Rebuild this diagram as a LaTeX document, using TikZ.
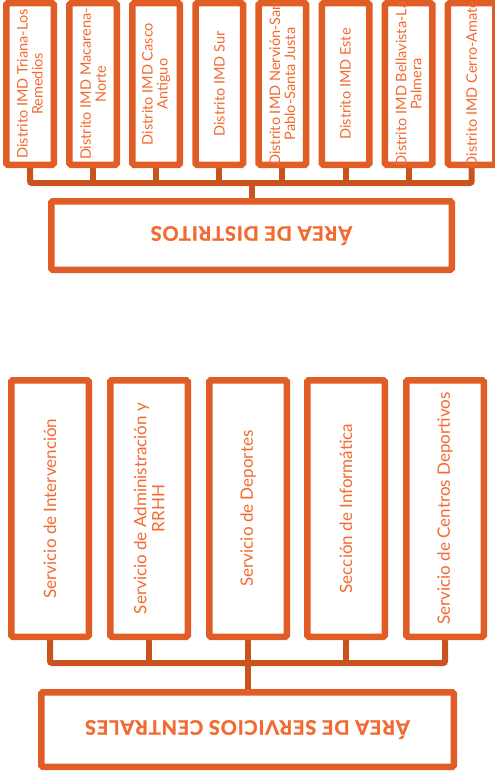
\documentclass[tikz,border=0pt]{standalone}
\usepackage{fontspec}
\usetikzlibrary{backgrounds}
\setmainfont{Lato}
\definecolor{bord}{HTML}{E05D25}
\definecolor{txt}{HTML}{F36A30}
\definecolor{busc}{HTML}{C9531F}
\begin{document}
\begin{tikzpicture}[x=1pt,y=1pt,
  dbox/.style={draw=bord, line width=6.5pt, rounded corners=1.5pt, fill=white,
    minimum width=47.5pt, minimum height=161.5pt, inner sep=0pt},
  sbox/.style={draw=bord, line width=6.5pt, rounded corners=1.5pt, fill=white,
    minimum width=77.5pt, minimum height=256.5pt, inner sep=0pt},
  abox/.style={draw=bord, line width=6.5pt, rounded corners=1.5pt, fill=white, inner sep=0pt},
  dlab/.style={rotate=90, align=center, text=txt, inner sep=0pt,
    font=\fontsize{14.5}{15}\selectfont},
  slab/.style={rotate=90, align=center, text=txt, inner sep=0pt,
    font=\fontsize{17}{18}\selectfont},
  alab/.style={rotate=180, text=txt, inner sep=0pt,
    font=\fontsize{20}{22}\selectfont\bfseries\addfontfeature{FakeBold=1.2,LetterSpace=4}},
  busline/.style={draw=busc, line width=6pt, rounded corners=2pt, line cap=round}
]
\useasboundingbox (0,0) rectangle (495,-776);
\clip (0,0) rectangle (495,-776);
\coordinate (dbus) at (0,-183);
\coordinate (sbus) at (0,-663);

% ---- upper part
\node[dbox] (d1) at (30,-84) {};
\node[dbox] (d2) at (93.1,-84) {};
\node[dbox] (d3) at (156.2,-84) {};
\node[dbox] (d4) at (219.3,-84) {};
\node[dbox] (d5) at (282.4,-84) {};
\node[dbox] (d6) at (345.5,-84) {};
\node[dbox] (d7) at (408.6,-84) {};
\node[dbox] (d8) at (471.7,-84) {};
\node[abox, minimum width=400.5pt, minimum height=68.5pt] (ad) at (251.5,-235.5) {};

\begin{pgfonlayer}{background}
\draw[busline] (d1.south) |- (d8.south |- dbus) -- (d8.south);
\foreach \n in {d2,d3,d4,d5,d6,d7} \draw[busline] (\n.south) -- (\n.south |- dbus);
\draw[busline] (ad.north) -- (ad.north |- dbus);
\end{pgfonlayer}

\node[dlab] at (d1) {Distrito IMD Triana-Los\\Remedios};
\node[dlab] at (d2) {Distrito IMD Macarena-\\Norte};
\node[dlab] at (d3) {Distrito IMD Casco\\Antiguo};
\node[dlab] at (d4) {Distrito IMD Sur};
\node[dlab] at (d5) {Distrito IMD Nervión-San\\Pablo-Santa Justa};
\node[dlab] at (d6) {Distrito IMD Este};
\node[dlab] at (d7) {Distrito IMD Bellavista-La\\Palmera};
\node[dlab] at (d8) {Distrito IMD Cerro-Amate};
\node[alab] at (ad) {ÁREA DE DISTRITOS};

% ---- lower part
\node[sbox] (s1) at (50,-508.5) {};
\node[sbox] (s2) at (149,-508.5) {};
\node[sbox] (s3) at (248,-508.5) {};
\node[sbox] (s4) at (346,-508.5) {};
\node[sbox] (s5) at (445,-508.5) {};
\node[abox, minimum width=412.5pt, minimum height=74.5pt] (as) at (247.5,-729.5) {};

\begin{pgfonlayer}{background}
\draw[busline] (s1.south) |- (s5.south |- sbus) -- (s5.south);
\foreach \n in {s2,s3,s4} \draw[busline] (\n.south) -- (\n.south |- sbus);
\draw[busline] (as.north) -- (as.north |- sbus);
\end{pgfonlayer}

\node[slab] at (s1) {Servicio de Intervención};
\node[slab] at (s2) {Servicio de Administración y\\RRHH};
\node[slab] at (s3) {Servicio de Deportes};
\node[slab] at (s4) {Sección de Informática};
\node[slab] at (s5) {Servicio de Centros Deportivos};
\node[alab] at (as) {ÁREA DE SERVICIOS CENTRALES};
\end{tikzpicture}
\end{document}
